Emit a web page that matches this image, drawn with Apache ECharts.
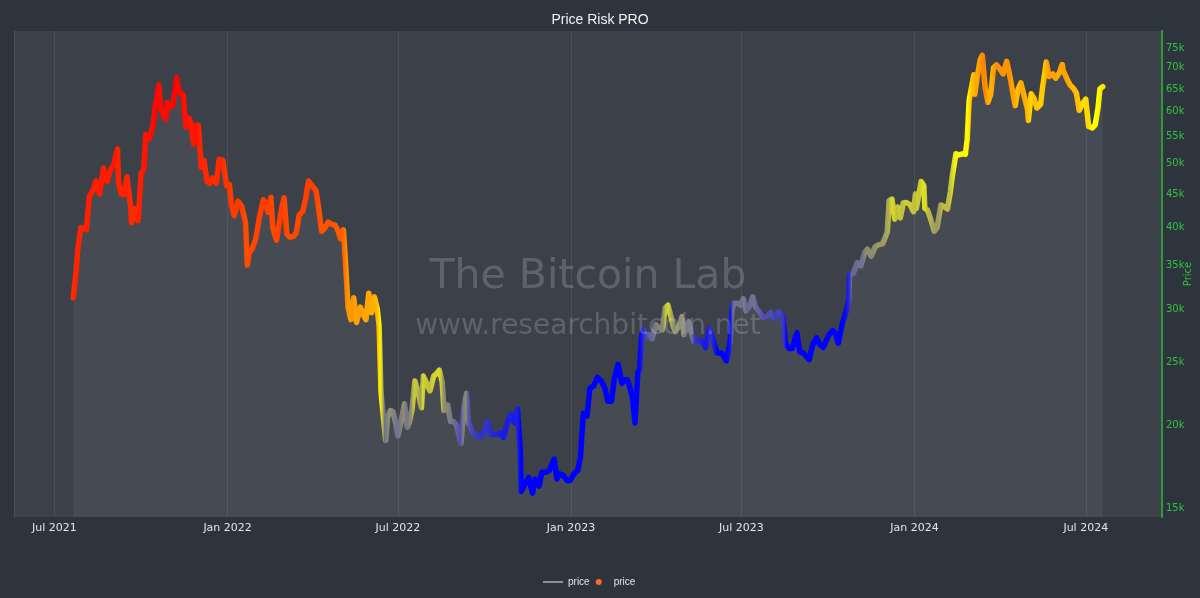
<!DOCTYPE html>
<html>
<head>
<meta charset="utf-8">
<title>Price Risk PRO</title>
<script src="https://cdn.jsdelivr.net/npm/echarts@6/dist/echarts.min.js"></script>
<style>
  html, body { margin: 0; padding: 0; background: #2e343e; }
  #chart { width: 1200px; height: 598px; }
</style>
</head>
<body>
<div id="chart"></div>
<script>
// Price Risk PRO: BTC price on a log axis, line coloured by risk (blue = low, yellow = mid, red = high)

const dates = [
  '2021-07-21','2021-07-24','2021-07-26','2021-07-29','2021-08-01','2021-08-04','2021-08-07','2021-08-11','2021-08-14','2021-08-18',
  '2021-08-22','2021-08-26','2021-08-29','2021-09-02','2021-09-06','2021-09-07','2021-09-10','2021-09-13','2021-09-16','2021-09-20',
  '2021-09-21','2021-09-24','2021-09-28','2021-10-01','2021-10-04','2021-10-06','2021-10-10','2021-10-14','2021-10-16','2021-10-20',
  '2021-10-22','2021-10-24','2021-10-27','2021-10-29','2021-11-01','2021-11-04','2021-11-08','2021-11-10','2021-11-12','2021-11-15',
  '2021-11-16','2021-11-18','2021-11-21','2021-11-23','2021-11-26','2021-11-28','2021-12-01','2021-12-04','2021-12-07','2021-12-10',
  '2021-12-13','2021-12-16','2021-12-20','2021-12-23','2021-12-27','2021-12-31',
  '2022-01-03','2022-01-05','2022-01-08','2022-01-12','2022-01-16','2022-01-20','2022-01-22','2022-01-24','2022-01-27','2022-01-31',
  '2022-02-04','2022-02-08','2022-02-10','2022-02-13','2022-02-16','2022-02-18','2022-02-22','2022-02-24','2022-02-28','2022-03-02',
  '2022-03-05','2022-03-08','2022-03-12','2022-03-15','2022-03-18','2022-03-22','2022-03-25','2022-03-28','2022-04-01','2022-04-05',
  '2022-04-07','2022-04-11','2022-04-14','2022-04-18','2022-04-21','2022-04-25','2022-04-28','2022-05-01','2022-05-04','2022-05-06',
  '2022-05-09','2022-05-12','2022-05-15','2022-05-18','2022-05-22','2022-05-25','2022-05-28','2022-05-31','2022-06-03','2022-06-06',
  '2022-06-09','2022-06-11','2022-06-13','2022-06-15','2022-06-18','2022-06-20','2022-06-23','2022-06-26','2022-06-29','2022-07-01',
  '2022-07-04','2022-07-08','2022-07-11','2022-07-13','2022-07-16','2022-07-19','2022-07-22','2022-07-26','2022-07-28','2022-07-31',
  '2022-08-04','2022-08-08','2022-08-11','2022-08-14','2022-08-17','2022-08-19','2022-08-23','2022-08-26','2022-08-29','2022-09-01',
  '2022-09-06','2022-09-09','2022-09-12','2022-09-14','2022-09-19','2022-09-23','2022-09-26','2022-09-30','2022-10-04','2022-10-08',
  '2022-10-13','2022-10-17','2022-10-21','2022-10-25','2022-10-29','2022-11-02','2022-11-05','2022-11-08','2022-11-09','2022-11-13',
  '2022-11-17','2022-11-21','2022-11-24','2022-11-28','2022-12-01','2022-12-05','2022-12-09','2022-12-14','2022-12-17','2022-12-20',
  '2022-12-24','2022-12-28','2022-12-31',
  '2023-01-04','2023-01-08','2023-01-11','2023-01-14','2023-01-18','2023-01-21','2023-01-25','2023-01-29','2023-02-02','2023-02-06',
  '2023-02-09','2023-02-13','2023-02-16','2023-02-20','2023-02-24','2023-02-27','2023-03-02','2023-03-07','2023-03-10','2023-03-13',
  '2023-03-15','2023-03-17','2023-03-19','2023-03-22','2023-03-25','2023-03-28','2023-04-01','2023-04-04','2023-04-08','2023-04-11',
  '2023-04-14','2023-04-17','2023-04-20','2023-04-22','2023-04-26','2023-04-29','2023-05-01','2023-05-06','2023-05-09','2023-05-12',
  '2023-05-16','2023-05-20','2023-05-24','2023-05-28','2023-06-01','2023-06-05','2023-06-10','2023-06-15','2023-06-19','2023-06-21',
  '2023-06-23','2023-06-27','2023-06-30','2023-07-03','2023-07-06','2023-07-09','2023-07-13','2023-07-16','2023-07-20','2023-07-24',
  '2023-07-28','2023-08-01','2023-08-05','2023-08-09','2023-08-14','2023-08-17','2023-08-21','2023-08-24','2023-08-29','2023-09-01',
  '2023-09-05','2023-09-11','2023-09-15','2023-09-19','2023-09-22','2023-09-26','2023-09-29','2023-10-02','2023-10-06','2023-10-09',
  '2023-10-12','2023-10-16','2023-10-20','2023-10-23','2023-10-24','2023-10-28','2023-11-01','2023-11-05','2023-11-09','2023-11-12',
  '2023-11-16','2023-11-20','2023-11-24','2023-11-28','2023-12-01','2023-12-03','2023-12-05','2023-12-08','2023-12-11','2023-12-14',
  '2023-12-17','2023-12-20','2023-12-23','2023-12-27','2023-12-31',
  '2024-01-02','2024-01-03','2024-01-08','2024-01-11','2024-01-12','2024-01-15','2024-01-18','2024-01-22','2024-01-25','2024-01-29',
  '2024-02-01','2024-02-05','2024-02-08','2024-02-10','2024-02-14','2024-02-17','2024-02-21','2024-02-24','2024-02-26','2024-02-28',
  '2024-03-01','2024-03-04','2024-03-05','2024-03-08','2024-03-11','2024-03-13','2024-03-16','2024-03-19','2024-03-22','2024-03-25',
  '2024-03-28','2024-04-01','2024-04-04','2024-04-08','2024-04-12','2024-04-15','2024-04-17','2024-04-20','2024-04-23','2024-04-26',
  '2024-04-30','2024-05-01','2024-05-04','2024-05-07','2024-05-10','2024-05-14','2024-05-16','2024-05-20','2024-05-23','2024-05-27',
  '2024-05-30','2024-06-03','2024-06-06','2024-06-07','2024-06-11','2024-06-14','2024-06-18','2024-06-21','2024-06-24','2024-06-27',
  '2024-07-01','2024-07-04','2024-07-05','2024-07-08','2024-07-11','2024-07-14','2024-07-16','2024-07-19'
];

const price = [
  31300,34300,37300,40000,39900,39700,44600,45600,47100,45000,
  49300,47000,48800,49900,52700,46900,45000,44900,47800,43000,
  40700,42800,41000,48200,49100,55400,54700,57400,61000,65900,
  60700,61000,58400,62000,61000,61400,67600,64900,64100,63600,
  60300,56900,58700,57500,53600,57300,57200,49400,50600,47100,
  46700,47600,46700,50800,50600,46300,
  46500,43400,41700,43900,43100,40700,35100,36700,37100,38500,
  41600,44100,43600,42200,44500,40000,38300,38300,43200,44400,
  39100,38700,38800,39300,41800,42400,44300,47100,46300,45500,
  43500,39500,39900,40800,40500,40400,39700,38500,39700,36000,
  30300,29000,31300,28700,30300,29500,29000,31800,29700,31400,
  30100,28400,22500,22600,19000,20600,21100,21000,20100,19300,
  20200,21600,19900,20200,21200,23400,22700,21300,23800,23300,
  22600,23800,24000,24300,23300,21100,21500,20300,20300,20100,
  18800,21300,22400,20200,19500,19300,19200,19400,20300,19400,
  19400,19500,19200,20100,20800,20200,21200,18500,15900,16300,
  16700,15800,16600,16200,17000,17000,17100,17800,16600,16900,
  16800,16500,16500,
  16900,17100,17900,20900,20700,22800,23000,23700,23400,22800,
  21800,21800,23600,24800,23200,23500,23500,22200,20200,24100,
  24400,27400,28000,27300,27500,27100,28500,28200,28000,30200,
  30500,29400,28200,27800,28400,29300,27500,28800,27600,26800,
  27000,26900,26300,28100,27000,25800,25800,25100,26800,30000,
  30700,30700,30500,31200,29900,30300,31400,30300,29800,29200,
  29300,29700,29100,29800,29400,26600,26200,26200,27700,25900,
  25800,25200,26600,27200,26600,26300,26900,27500,27900,27600,
  26700,28500,29700,31000,33900,34100,35400,35000,36700,37100,
  36200,37400,37700,37800,38700,39400,44000,44200,41200,43000,
  41400,43600,43700,43400,42300,
  45000,42800,47000,46300,42800,42500,41300,39500,40000,43300,
  43100,42700,45300,47800,51800,51600,51800,51700,54500,62400,
  62400,68300,63800,68300,72100,73100,65300,62000,63800,70000,
  70700,69600,68500,71600,67200,63400,61300,64900,66400,63800,
  60600,58200,63900,62900,60800,61600,65200,71400,67900,68500,
  67500,68800,70800,69300,67300,66000,65100,64100,60300,61600,
  62700,57000,56700,56700,57300,60800,65000,65500
];

// risk score 0..1 that drives the line colour
const risk = [
  0.91,0.92,0.93,0.93,0.93,0.93,0.94,0.94,0.94,0.94,
  0.95,0.94,0.95,0.95,0.96,0.94,0.93,0.93,0.94,0.93,
  0.92,0.92,0.92,0.94,0.94,0.96,0.96,0.97,0.98,0.99,
  0.98,0.98,0.97,0.98,0.98,0.98,1.00,0.99,0.99,0.99,
  0.98,0.96,0.97,0.96,0.95,0.96,0.96,0.93,0.93,0.92,
  0.92,0.92,0.91,0.92,0.92,0.90,
  0.90,0.89,0.88,0.89,0.88,0.87,0.85,0.85,0.86,0.86,
  0.87,0.88,0.88,0.87,0.88,0.86,0.86,0.86,0.88,0.88,
  0.86,0.85,0.85,0.86,0.86,0.87,0.87,0.88,0.88,0.87,
  0.86,0.84,0.84,0.84,0.84,0.84,0.83,0.82,0.82,0.79,
  0.72,0.70,0.71,0.68,0.69,0.68,0.67,0.68,0.66,0.66,
  0.65,0.62,0.52,0.42,0.22,0.25,0.28,0.27,0.24,0.22,
  0.24,0.28,0.23,0.24,0.28,0.40,0.38,0.30,0.42,0.40,
  0.37,0.41,0.42,0.43,0.39,0.28,0.27,0.24,0.23,0.20,
  0.15,0.24,0.28,0.18,0.13,0.11,0.10,0.10,0.10,0.08,
  0.07,0.06,0.05,0.05,0.06,0.05,0.06,0.02,0.00,0.00,
  0.00,0.00,0.00,0.00,0.00,0.00,0.00,0.00,0.00,0.00,
  0.00,0.00,0.00,
  0.00,0.00,0.00,0.00,0.00,0.00,0.00,0.00,0.00,0.00,
  0.00,0.00,0.00,0.00,0.00,0.00,0.00,0.00,0.00,0.00,
  0.02,0.05,0.10,0.15,0.20,0.20,0.25,0.26,0.26,0.38,
  0.42,0.33,0.28,0.26,0.28,0.30,0.22,0.26,0.20,0.10,
  0.08,0.06,0.04,0.10,0.05,0.00,0.00,0.00,0.05,0.20,
  0.22,0.22,0.22,0.24,0.20,0.21,0.23,0.20,0.18,0.15,
  0.15,0.15,0.12,0.14,0.10,0.00,0.00,0.00,0.00,0.00,
  0.00,0.00,0.00,0.00,0.00,0.00,0.00,0.00,0.00,0.00,
  0.00,0.00,0.05,0.10,0.20,0.20,0.22,0.22,0.28,0.28,
  0.27,0.30,0.30,0.30,0.33,0.34,0.42,0.42,0.37,0.40,
  0.37,0.40,0.40,0.39,0.37,
  0.42,0.38,0.44,0.43,0.38,0.36,0.33,0.30,0.31,0.37,
  0.37,0.37,0.42,0.47,0.52,0.52,0.52,0.51,0.55,0.62,
  0.63,0.68,0.66,0.70,0.73,0.75,0.68,0.65,0.67,0.72,
  0.72,0.71,0.70,0.72,0.68,0.65,0.63,0.66,0.67,0.65,
  0.60,0.57,0.63,0.62,0.60,0.60,0.63,0.70,0.67,0.68,
  0.66,0.68,0.69,0.68,0.66,0.64,0.63,0.62,0.56,0.57,
  0.58,0.52,0.50,0.50,0.51,0.54,0.56,0.56
];

const yTicks = [15000, 20000, 25000, 30000, 35000, 40000, 45000, 50000, 55000, 60000, 65000, 70000, 75000];
const riskColors = ['#0000ff', '#ffff00', '#ff0000'];
const MONTHS = ['Jan','Feb','Mar','Apr','May','Jun','Jul','Aug','Sep','Oct','Nov','Dec'];

const chart = echarts.init(document.getElementById('chart'), null, { renderer: 'canvas' });

const pts = dates.map((d, i) => [d, price[i]]);

// horizontal gradient: one stop per point, coloured from its risk
const t0 = +new Date(dates[0]);
const t1 = +new Date(dates[dates.length - 1]);
const stops = dates.map((d, i) => ({
  offset: (+new Date(d) - t0) / (t1 - t0),
  color: echarts.color.lerp(Math.max(0, Math.min(1, risk[i])), riskColors)
}));

const FONT = 'DejaVu Sans';
const GREEN = '#34c23c';
const HALF_YEAR = 182.5 * 24 * 3600 * 1000;

chart.setOption({
  backgroundColor: '#2e343e',
  animation: false,
  title: {
    text: 'Price Risk PRO', left: 'center', top: 8,
    textStyle: { color: '#f2f2f2', fontSize: 14, fontWeight: 'normal', fontFamily: 'Liberation Sans' }
  },
  grid: {
    left: 14, right: 38, top: 31, bottom: 81, outerBoundsMode: 'none',
    show: true, backgroundColor: '#3b4049', borderWidth: 0
  },
  legend: {
    left: 537, top: 572, itemWidth: 20, itemHeight: 6, itemGap: 6,
    textStyle: { color: '#e4e4e4', fontSize: 10, fontFamily: 'Liberation Sans' },
    formatter: n => n.trim(),
    data: [
      { name: 'price', itemStyle: { color: 'rgba(0,0,0,0)', borderWidth: 0 } },
      { name: 'price ', icon: 'circle', itemStyle: { color: '#ff6a1f' } }
    ]
  },
  xAxis: {
    type: 'time', min: '2021-05-19', max: '2024-09-20',
    minInterval: HALF_YEAR, maxInterval: HALF_YEAR,
    axisLine: { show: false },
    axisTick: { show: false },
    splitLine: { show: true, lineStyle: { color: '#4a4f58', width: 1 } },
    axisLabel: {
      color: '#e4e4e4', fontSize: 11, fontFamily: FONT, margin: 6,
      showMinLabel: false, showMaxLabel: false,
      formatter: v => { const d = new Date(v); return MONTHS[d.getMonth()] + ' ' + d.getFullYear(); }
    }
  },
  yAxis: {
    type: 'log', position: 'right', min: 14535, max: 79600,
    name: 'Price', nameLocation: 'middle', nameGap: 26, nameRotate: 90, nameMoveOverlap: false,
    nameTextStyle: { color: GREEN, fontSize: 10, fontFamily: FONT, verticalAlign: 'middle' },
    axisLine: { show: true, lineStyle: { color: '#2f9a37', width: 2 } },
    axisTick: { show: false },
    splitLine: { show: false },
    axisLabel: {
      color: GREEN, fontSize: 10, fontFamily: FONT, margin: 4,
      customValues: yTicks,
      formatter: v => Math.round(v / 1000) + 'k'
    }
  },
  graphic: [
    { type: 'text', x: 588, y: 277, z: 100, silent: true,
      style: { text: 'The Bitcoin Lab', fill: 'rgba(255,255,255,0.18)', font: '41px "DejaVu Sans"', align: 'center', verticalAlign: 'middle' } },
    { type: 'text', x: 588, y: 327, z: 100, silent: true,
      style: { text: 'www.researchbitcoin.net', fill: 'rgba(255,255,255,0.18)', font: '28px "DejaVu Sans"', align: 'center', verticalAlign: 'middle' } }
  ],
  series: [
    {
      name: 'price', type: 'line', data: pts, symbol: 'none',
      lineStyle: { color: '#8a9099', width: 1 },
      itemStyle: { color: 'rgba(0,0,0,0)', borderWidth: 0 },
      areaStyle: { color: 'rgba(255,255,255,0.08)', origin: 'start' },
      z: 1
    },
    {
      name: 'price ', type: 'line', data: pts, symbol: 'none',
      itemStyle: { color: '#ff6a1f' },
      lineStyle: {
        width: 5.5, cap: 'round', join: 'round',
        color: new echarts.graphic.LinearGradient(0, 0, 1, 0, stops)
      },
      z: 3
    }
  ]
});
</script>
</body>
</html>
